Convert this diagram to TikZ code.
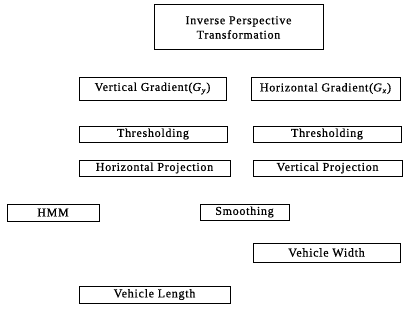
\documentclass[tikz,border=0pt]{standalone}
\usepackage{fontspec}
\setmainfont{Liberation Serif}[LetterSpace=6,FakeBold=0.6]
\begin{document}
\begin{tikzpicture}[x=1pt,y=-1pt,
  box/.style={draw, line width=1pt, inner sep=0pt, font=\fontsize{12}{14.5}\selectfont, align=center}]
\useasboundingbox (0,0) rectangle (404,321);
\newcommand\bx[6]{\node[box, minimum width=#3-#2, minimum height=#5-#4] (#1) at ({(#2+#3)/2},{(#4+#5)/2}) {#6};}
\bx{ipt}{154}{323}{5}{50}{Inverse Perspective\\Transformation}
\bx{vg}{79}{226}{77}{100}{Vertical Gradient(\textit{G}\textsubscript{\textit{y}})}
\bx{hg}{251}{400}{77}{100}{Horizontal Gradient(\textit{G}\textsubscript{\textit{x}})}
\bx{thl}{79}{227}{126}{142}{Thresholding}
\bx{thr}{253}{401}{126}{142}{Thresholding}
\bx{hp}{79}{230}{160}{176}{Horizontal Projection}
\bx{vp}{253}{402}{160}{176}{Vertical Projection}
\bx{hmm}{7}{99}{204}{221}{HMM}
\bx{sm}{200}{289}{204}{220}{Smoothing}
\bx{vw}{253}{400}{243}{262}{Vehicle Width}
\bx{vl}{79}{230}{286}{303}{Vehicle Length}
\end{tikzpicture}
\end{document}
